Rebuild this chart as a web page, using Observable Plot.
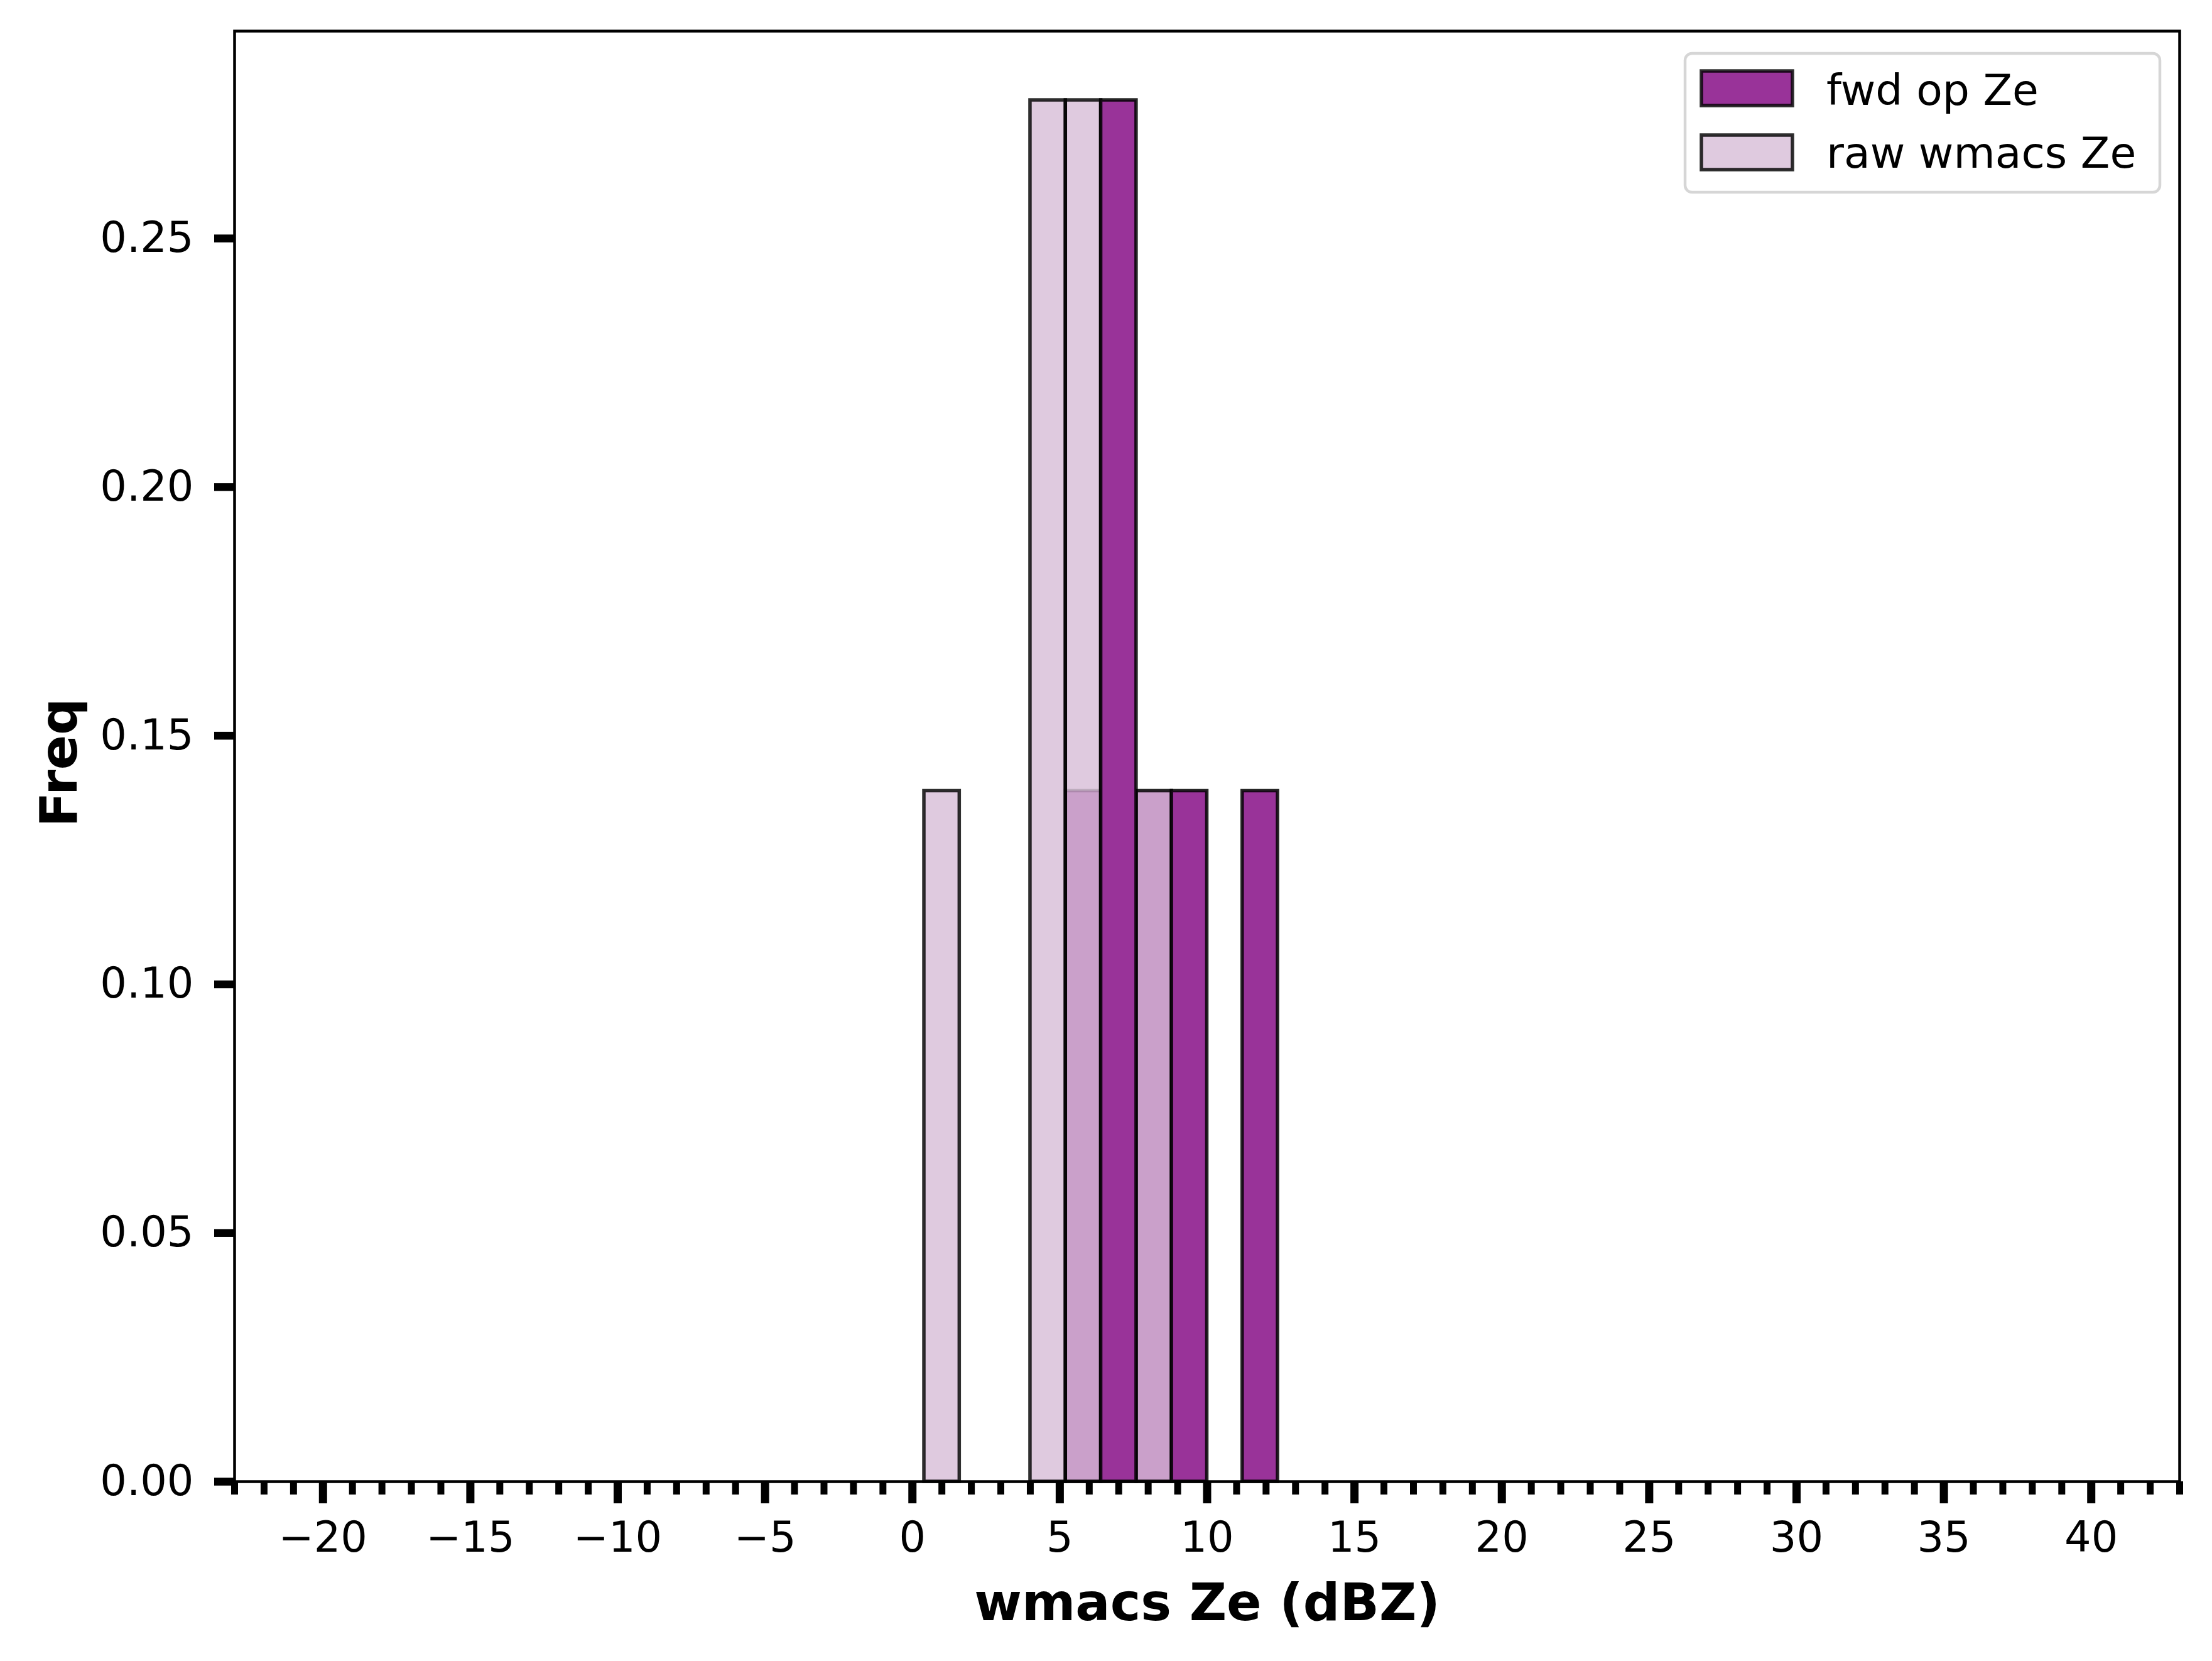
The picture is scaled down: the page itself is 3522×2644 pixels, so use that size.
<!DOCTYPE html>
<html>
<head>
<meta charset="utf-8">
<script src="https://cdn.jsdelivr.net/npm/d3@7"></script>
<script src="https://cdn.jsdelivr.net/npm/@observablehq/plot@0.6"></script>
<style>
  html, body { margin: 0; padding: 0; background: #fff; }
  #chart svg { display: block; }
</style>
</head>
<body>
<div id="chart"></div>
<script>
// Histogram bins (dBZ), bin width 1.2
const binLo = [0.4, 1.6, 2.8, 4.0, 5.2, 6.4, 7.6, 8.8, 10.0, 11.2];
const binHi = [1.6, 2.8, 4.0, 5.2, 6.4, 7.6, 8.8, 10.0, 11.2, 12.4];
// Frequencies
const rawFreq = [0.1389, 0, 0, 0.2778, 0.2778, 0, 0.1389, 0, 0, 0];
const fwdFreq = [0, 0, 0, 0, 0.1389, 0.2778, 0.1389, 0.1389, 0, 0.1389];
// Series labels
const seriesNames = ["fwd op Ze", "raw wmacs Ze"];
// Axis ticks
const xMajorTicks = [-20, -15, -10, -5, 0, 5, 10, 15, 20, 25, 30, 35, 40];
const xMinorTicks = d3.range(-23, 44).filter(v => v % 5 !== 0);
const yTicks = [0, 0.05, 0.10, 0.15, 0.20, 0.25];

const darkFill = "#993399";
const lightFill = "#dfcadf";
const midFill = "#caa0ca";
const edge = "black";
const EW = 5.5;

const table = binLo.map((lo, i) => ({lo, hi: binHi[i], raw: rawFreq[i], fwd: fwdFreq[i]}));
const rawBars = table.filter(d => d.raw > 0);
const overlapBars = table.filter(d => d.raw > 0 && d.fwd > 0).map(d => ({...d, ov: Math.min(d.raw, d.fwd)}));
const fwdBars = table.filter(d => d.fwd > d.raw);

const minus = v => (v < 0 ? "\u2212" + Math.abs(v) : String(v));
const FONT = "DejaVu Sans";

const plot = Plot.plot({
  width: 3522,
  height: 2644,
  marginLeft: 373,
  marginRight: 52,
  marginTop: 49,
  marginBottom: 286,
  style: {fontFamily: FONT, background: "white", color: "black"},
  x: {domain: [-23, 43]},
  y: {domain: [0, 0.2917]},
  marks: [
    Plot.rect(rawBars, {x1: "lo", x2: "hi", y1: 0, y2: "raw", fill: lightFill}),
    Plot.rect(overlapBars, {x1: "lo", x2: "hi", y1: 0, y2: "ov", fill: midFill, stroke: edge, strokeOpacity: 0.15, strokeWidth: EW}),
    Plot.rect(rawBars, {x1: "lo", x2: "hi", y1: 0, y2: "raw", fill: "none", stroke: edge, strokeOpacity: 0.82, strokeWidth: EW}),
    Plot.rect(fwdBars, {x1: "lo", x2: "hi", y1: "raw", y2: "fwd", fill: darkFill, stroke: edge, strokeOpacity: 0.85, strokeWidth: EW}),
    Plot.axisX({ticks: xMinorTicks, tickSize: 21, strokeWidth: 11, tickFormat: () => "", label: null}),
    Plot.axisX({ticks: xMajorTicks, tickSize: 35, strokeWidth: 13, tickPadding: 29, fontSize: 67, tickFormat: minus, label: null, fill: "black"}),
    Plot.axisY({ticks: yTicks, tickSize: 32, strokeWidth: 12.5, tickPadding: 33, fontSize: 67, tickFormat: d => d.toFixed(2), label: null, fill: "black"}),
    Plot.text(["wmacs Ze (dBZ)"], {frameAnchor: "bottom", text: d => d, dy: 220, lineAnchor: "bottom", textAnchor: "middle", fontSize: 82, fontWeight: "bold", fill: "black"}),
    Plot.text(["Freq"], {frameAnchor: "left", text: d => d, dx: -252, dy: 10, rotate: -90, lineAnchor: "bottom", textAnchor: "middle", fontSize: 82, fontWeight: "bold", fill: "black"}),
    Plot.frame({stroke: "black", strokeWidth: 4.5})
  ]
});

// Legend (matplotlib style, upper right inside axes)
const svg = d3.select(plot);
const lg = svg.append("g").attr("font-family", FONT).attr("text-anchor", "start");
lg.append("rect").attr("x", 2683).attr("y", 85).attr("width", 756).attr("height", 221)
  .attr("rx", 11).attr("fill", "white").attr("fill-opacity", 0.8)
  .attr("stroke", "#d6d6d6").attr("stroke-width", 4.5);
const legendFills = [darkFill, lightFill];
seriesNames.forEach((name, i) => {
  const y0 = 113 + i * 102;
  lg.append("rect").attr("x", 2709).attr("y", y0).attr("width", 145).attr("height", 55)
    .attr("fill", legendFills[i]).attr("stroke", edge).attr("stroke-opacity", 0.82).attr("stroke-width", EW);
  lg.append("text").attr("x", 2908).attr("y", 167 + i * 100).attr("text-anchor", "start")
    .attr("font-size", 68).attr("fill", "black").text(name);
});

document.getElementById("chart").appendChild(plot);
</script>
</body>
</html>
